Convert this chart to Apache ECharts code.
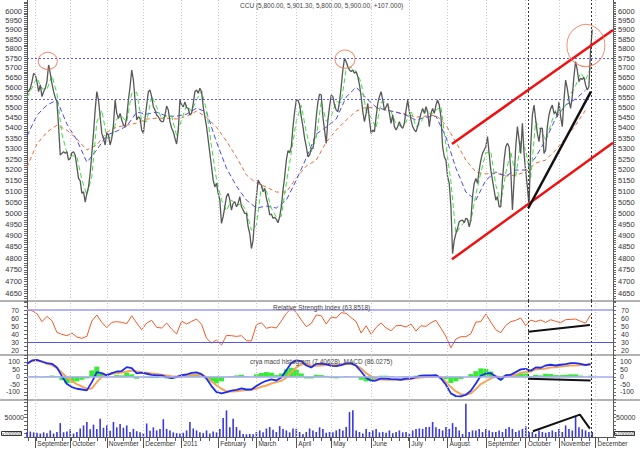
<!DOCTYPE html>
<html><head><meta charset="utf-8">
<script src="https://cdn.jsdelivr.net/npm/echarts@6/dist/echarts.min.js"></script>
<style>html,body{margin:0;padding:0;background:#fff}#c{width:640px;height:449px}</style>
</head><body><div id="c"></div>
<script>
// ---------- data ----------
const closeStep = 1;
const closePrice = [
5587,5579,5596,5630,5672,5664,5630,5579,5613,5554,5579,5596,5630,5715,5672,5621,5579,5550,5528,5406,5269,5277,5285,5277,5285,5245,5253,5280,5285,5269,5214,5159,5148,5090,5097,5050,5090,5120,5182,5277,5373,5487,5579,5537,5454,5373,5349,5317,5376,5365,5317,5349,5414,5537,5471,5446,5471,5438,5414,
5406,5454,5537,5604,5689,5638,5537,5438,5454,5446,5389,5373,5446,5512,5579,5587,5554,5504,5487,5463,5454,5438,5430,5430,5463,5507,5487,5430,5398,5381,5349,5322,5389,5537,5512,5504,5528,5500,5495,5463,5471,5520,5579,5587,5571,5596,5579,5504,5454,5406,5341,5277,5214,5151,5120,5136,5090,5059,4954,
4984,5029,5075,5090,5059,5014,5044,5052,5029,5044,5075,5029,5014,4999,4999,4939,4909,4843,4879,4984,5075,5151,5136,5128,5097,5113,5067,5037,4992,4996,4977,4981,4972,4957,4984,5029,5105,5167,5245,5290,5280,5309,5406,5479,5537,5537,5512,5454,5406,5349,5309,5261,5269,5301,5301,5357,5454,5528,5567,
5562,5454,5389,5325,5438,5504,5562,5554,5512,5487,5479,5528,5604,5689,5750,5732,5706,5689,5681,5689,5672,5681,5655,5613,5554,5479,5430,5471,5520,5438,5373,5389,5381,5454,5520,5554,5579,5537,5487,5504,5520,5471,5422,5463,5406,5389,5406,5430,5406,5398,5422,5487,5537,5479,5438,5406,5389,5381,5406,
5438,5471,5495,5471,5504,5479,5406,5471,5495,5471,5512,5537,5512,5454,5309,5261,5245,5167,5136,5029,4821,4879,4909,4932,4962,4966,4969,4957,4977,4972,4939,4969,5075,5136,5159,5136,5198,5245,5277,5293,5309,5357,5277,5198,5151,5105,5059,5075,5029,5029,5151,5245,5309,5325,5309,5198,5014,5151,5309,
5406,5341,5277,5422,5277,5190,5120,5035,5309,5463,5512,5438,5373,5333,5398,5398,5277,5293,5406,5463,5495,5512,5471,5479,5454,5528,5454,5406,5537,5638,5596,5537,5495,5554,5655,5732,5689,5630,5647,5641,5652,5613,5587,5604,5793,5900];

const maShortStep = 3;
const maShort = [5550,5598,5649,5594,5590,5660,5570,5370,5281,5266,5262,5153,5082,5167,5429,5486,5354,5352,5443,5457,
5428,5571,5576,5432,5430,5558,5502,5446,5458,5456,5363,5440,5511,5482,5539,5583,5486,5310,5155,5060,
5011,5060,5035,5044,5010,4923,4945,5123,5101,5023,4982,4986,5137,5281,5433,5510,5380,5285,5353,5528,
5433,5457,5529,5525,5694,5702,5681,5626,5484,5451,5399,5527,5527,5479,5420,5408,5428,5485,5404,5424,
5485,5465,5487,5504,5317,5144,4910,4942,4967,4964,5085,5185,5281,5285,5128,5048,5184,5285,5168,5333,
5292,5164,5431,5386,5342,5414,5489,5479,5509,5567,5609,5675,5638,5700];

const maMidStep = 6;
const maMid = [5360,5462,5512,5537,5418,5341,5235,5293,5365,5384,5408,5477,5467,5477,5457,5457,5467,5497,5477,5331,
5207,5123,5059,5023,5032,5023,5059,5151,5255,5370,5403,5443,5552,5602,5547,5502,5487,5477,5462,5438,
5452,5457,5355,5207,5096,5059,5151,5189,5170,5198,5198,5259,5341,5447,5512,5542,5587];

const maLongStep = 6;
const maLong = [5212,5322,5379,5413,5389,5346,5293,5317,5379,5403,5413,5423,5443,5447,5447,5443,5457,5482,5452,5403,
5336,5259,5175,5137,5119,5096,5096,5161,5217,5245,5331,5389,5438,5482,5502,5497,5487,5477,5467,5452,
5457,5462,5413,5331,5245,5189,5180,5184,5170,5175,5189,5231,5245,5293,5351,5413,5487];

const rsiStep = 3;
const rsi = [70.0,69.2,65.5,55.7,62.2,56.9,42.5,40.1,38.4,41.7,36.8,35.2,37.6,56.5,63.9,54.8,48.3,54.8,55.7,54.8,
53.2,63.0,54.0,45.8,54.0,57.3,48.7,47.9,54.0,46.6,40.5,56.5,52.8,56.1,58.9,52.4,35.2,29.4,33.1,27.0,
38.9,38.4,37.6,38.4,32.3,31.9,52.0,54.4,47.5,49.1,47.9,56.5,65.9,72.0,67.1,57.7,49.5,53.6,63.9,63.0,
52.8,61.4,60.2,66.7,65.9,60.6,55.7,41.7,50.7,40.1,48.7,54.0,47.9,44.6,50.7,51.1,49.1,52.8,44.2,50.7,
49.9,54.4,57.3,47.5,37.6,23.5,34.3,37.2,37.2,40.9,55.2,55.7,65.1,55.2,45.8,42.1,51.1,55.7,57.3,60.2,
50.7,57.7,55.7,57.7,54.8,58.1,56.1,54.4,58.1,58.5,58.9,56.1,54.0,63.9];

const macdStep = 3;
const macdLine = [86,109,113,100,91,86,62,4,-49,-69,-80,-85,-91,-36,31,24,9,24,35,38,
64,58,22,27,20,13,9,9,-2,-9,-2,11,15,26,29,18,-13,-62,-102,-111,
-102,-93,-87,-78,-85,-85,-62,-42,-27,-18,-25,-5,44,91,109,104,75,62,86,86,
84,73,71,78,89,89,73,35,-7,-27,-25,-11,-13,-16,-18,-20,-13,-13,-2,7,
9,9,11,-11,-53,-111,-129,-131,-120,-93,-45,7,22,24,2,-22,11,13,31,49,
53,40,62,60,75,80,75,80,84,91,91,86,78,86];
const macdSignal = [86,104,109,104,86,78,58,27,-5,-29,-49,-65,-80,-78,-36,0,13,20,24,29,
35,42,35,29,27,22,18,13,9,4,2,2,9,13,15,11,-2,-31,-58,-80,
-98,-98,-96,-91,-89,-87,-78,-67,-58,-45,-36,-27,-5,31,62,82,86,73,73,75,
78,80,82,82,84,86,75,55,24,2,-13,-18,-20,-20,-18,-18,-18,-13,-9,-5,
-2,0,4,-2,-36,-69,-98,-116,-120,-111,-82,-49,-31,-11,2,-2,0,7,13,27,
31,35,49,51,55,62,64,69,71,75,75,78,80,78];
const macdHist = [0,5,4,-4,5,8,4,-23,-44,-40,-31,-20,-11,42,67,24,-4,4,11,9,
29,16,-13,-2,-7,-9,-9,-4,-11,-13,-4,9,6,13,14,7,-11,-31,-44,-31,
-4,5,9,13,4,2,16,25,31,27,11,22,49,60,47,22,-11,-11,13,11,
6,-7,-11,-4,5,3,-2,-20,-31,-29,-12,7,7,4,0,-2,5,0,7,12,
11,9,7,-9,-17,-42,-31,-15,0,18,37,56,53,35,0,-20,11,6,18,22,
22,5,13,9,20,18,11,11,13,16,16,8,-2,7];

const volStep = 2;
const volume = [13000,14000,12000,11000,9000,12000,10000,17000,9000,13000,
36000,12000,14000,20000,9000,13000,22000,30000,39000,20000,
32000,21000,47000,24000,30000,16000,39000,25000,34000,24000,
30000,13000,21000,15000,12000,10000,35000,16000,25000,17000,
21000,46000,21000,17000,12000,10000,9000,11000,17000,39000,
22000,17000,12000,10000,17000,9000,14000,12000,21000,49000,
69000,25000,47000,26000,17000,8000,7000,8000,7000,13000,
17000,12000,22000,26000,19000,13000,28000,21000,17000,12000,
22000,21000,13000,8000,13000,22000,17000,13000,
25000,21000,11000,13000,12000,17000,21000,17000,26000,65000,
69000,17000,13000,9000,21000,13000,17000,21000,12000,13000,
11000,17000,10000,13000,17000,12000,13000,9000,17000,21000,
22000,21000,26000,26000,39000,25000,21000,17000,26000,21000,
36000,26000,17000,8000,86000,13000,17000,17000,21000,13000,
21000,17000,13000,13000,17000,13000,21000,26000,21000,13000,
17000,21000,28000,13000,13000,8000,17000,13000,11000,13000,
17000,13000,21000,13000,30000,21000,17000,54000,25000,20000,
17000,13000,13000];

const monthTicks = [5,26,48,70,93,115,138,162,183,207,230,253,276,300,320,342];
const monthLabels = ['September','October','November','December','2011','February','March','April','May','June','July','August','September','October','November','December'];
const priceTicks = [4650,4700,4750,4800,4850,4900,4950,5000,5050,5100,5150,5200,5250,5300,5350,5400,5450,5500,5550,5600,5650,5700,5750,5800,5850,5900,5950,6000];
const rsiTicks = [20,30,40,50,60,70];
const macdTicks = [-100,-50,0,50,100];
const volTicks = [50000];

// annotations drawn on the picture
const priceLevels = [5750, 5540];
const markerDays = [301.5, 339.2];
const upperChannel = [[255.6,5322],[352.5,5898]];
const lowerChannel = [[255.6,4796],[352.5,5328]];
const supportLine = [[301.5,5022],[339.2,5579]];
const circleCenters = [[12.5,5736],[191.3,5745],[336.2,5816]];
const rsiTrend = [[301.5,43.3],[338.6,51.5]];
const macdTrend = [[301.5,-13],[339,-25]];
const volTrend = [[304.3,14800],[332.6,58000],[338.6,21800]];

const titleText = 'CCU (5,800.00, 5,901.30, 5,800.00, 5,900.00, +107.000)';
const rsiText = 'Relative Strength Index (63.8518)';
const macdText = 'crya macd histogram (7.40628), MACD (86.0275)';
const volUnitText = 'x100000';

// ---------- chart ----------
const FONT = '"Liberation Sans", Arial, sans-serif';
const X_MAX = 352.5;
const pts = (arr, step) => arr.map((v, i) => [i * step, v]);
const range = (a, b, s) => { const r = []; for (let v = a; v <= b + 1e-9; v += s) r.push(+v.toFixed(3)); return r; };

const chart = echarts.init(document.getElementById('c'), null, {renderer: 'svg'});

const grids = [
  {left: 27, right: 27, top: 0, height: 301},
  {left: 27, right: 27, top: 301, height: 54},
  {left: 27, right: 27, top: 355, height: 45},
  {left: 27, right: 27, top: 400, height: 37}
];

function hiddenX(gi) {
  return {type: 'value', gridIndex: gi, min: 0, max: X_MAX,
    axisLine: {show: false}, axisTick: {show: false}, axisLabel: {show: false}, splitLine: {show: false}};
}
const xAxes = [hiddenX(0), hiddenX(1), hiddenX(2),
  {type: 'value', gridIndex: 3, min: 0, max: X_MAX,
   axisLine: {show: true, lineStyle: {color: '#555'}},
   axisTick: {show: true, customValues: monthTicks, length: 11, lineStyle: {color: '#555'}},
   axisLabel: {show: true, customValues: monthTicks, formatter: v => monthLabels[monthTicks.indexOf(v)] || '',
     align: 'left', margin: 3, fontSize: 6.5, color: '#333', fontFamily: FONT, padding: [0, 0, 0, 2],
     hideOverlap: false},
   splitLine: {show: false}},
  {type: 'value', gridIndex: 3, min: 0, max: X_MAX, position: 'bottom',
   axisLine: {show: false},
   axisTick: {show: true, customValues: range(0.5, 350, 5.2), length: 4, lineStyle: {color: '#555'}},
   axisLabel: {show: false}, splitLine: {show: false}}
];

function yAx(gi, pos, opts) {
  return Object.assign({
    gridIndex: gi, position: pos,
    axisLine: {show: true, onZero: false, lineStyle: {color: '#555'}},
    splitLine: {show: false}
  }, opts);
}
const priceY = pos => yAx(0, pos, {type: 'log', logBase: 10, min: 4619, max: 6060,
  axisTick: {show: true, customValues: range(4620, 6050, 10), length: 3, lineStyle: {color: '#666'}},
  axisLabel: {customValues: priceTicks, formatter: v => String(Math.round(v)), fontSize: 7.5, color: '#333', margin: 5, fontFamily: FONT}});
const rsiY = pos => yAx(1, pos, {type: 'value', min: 14.7, max: 81.1,
  axisTick: {show: true, customValues: range(15, 80, 5), length: 3, lineStyle: {color: '#666'}},
  axisLabel: {customValues: rsiTicks, fontSize: 7, color: '#333', margin: 8, fontFamily: FONT}});
const macdY = pos => yAx(2, pos, {type: 'value', min: -155, max: 145,
  axisTick: {show: true, customValues: range(-150, 140, 25), length: 3, lineStyle: {color: '#666'}},
  axisLabel: {customValues: macdTicks, fontSize: 7, color: '#333', margin: 7, fontFamily: FONT}});
const volY = pos => yAx(3, pos, {type: 'value', min: 0, max: 95850,
  axisTick: {show: true, customValues: range(0, 90000, 10000), length: 3, lineStyle: {color: '#666'}},
  axisLabel: {customValues: volTicks, formatter: v => String(Math.round(v)), fontSize: 7, color: '#333', margin: 3, fontFamily: FONT}});

const yAxes = [priceY('left'), priceY('right'), rsiY('left'), rsiY('right'), macdY('left'), macdY('right'), volY('left'), volY('right')];

const gridLineStyle = {color: '#c8c8c8', type: [1, 2], width: 1};
const markerStyle = {color: '#333', type: [2, 2], width: 1};
function helperLines(xi, yi, extra) {
  const data = monthTicks.map(v => ({xAxis: v, lineStyle: gridLineStyle}))
    .concat(markerDays.map(v => ({xAxis: v, lineStyle: markerStyle})))
    .concat(extra || []);
  return {type: 'line', xAxisIndex: xi, yAxisIndex: yi, data: [], z: 1, silent: true,
    markLine: {silent: true, symbol: ['none', 'none'], label: {show: false}, animation: false, data: data}};
}

const line = (xi, yi, data, color, width, dash, z) => ({type: 'line', xAxisIndex: xi, yAxisIndex: yi, data,
  showSymbol: false, symbol: 'none', silent: true, z: z || 3,
  lineStyle: {color, width, type: dash || 'solid'}});

const series = [
  helperLines(0, 0, priceLevels.map(v => ({yAxis: v, lineStyle: {color: '#5a5aee', type: [2, 2], width: 1}}))),
  helperLines(1, 2, [{yAxis: 70, lineStyle: {color: '#9b9bf0', type: 'solid', width: 1.5}}, {yAxis: 30, lineStyle: {color: '#5555e8', width: 1.2, type: 'solid'}}]),
  helperLines(2, 4, [{yAxis: 0, lineStyle: {color: '#a8a8f5', width: 1.5, type: 'solid'}}]),
  helperLines(3, 6, []),
  // price panel
  line(0, 0, pts(maLong, maLongStep), '#ee6a3a', 1, [4, 3], 3),
  line(0, 0, pts(maMid, maMidStep), '#4a4aee', 1, [5, 3], 3),
  line(0, 0, pts(maShort, maShortStep), '#3ee03e', 1, [5, 3], 3),
  line(0, 0, pts(closePrice, closeStep), '#585858', 1.3, 'solid', 4),
  line(0, 0, upperChannel, '#f01010', 2.5, 'solid', 5),
  line(0, 0, lowerChannel, '#f01010', 2.5, 'solid', 5),
  line(0, 0, supportLine, '#111', 2.5, 'solid', 5),
  {type: 'scatter', xAxisIndex: 0, yAxisIndex: 0, silent: true, z: 6,
   data: circleCenters.map((c, i) => ({value: c, symbolSize: [[19, 17], [20, 18], [38, 42]][i]})),
   symbol: 'circle', itemStyle: {color: 'rgba(0,0,0,0)', borderColor: '#e8764f', borderWidth: 1}},
  // RSI
  line(1, 2, pts(rsi, rsiStep), '#f05a28', 1, 'solid', 3),
  line(1, 2, rsiTrend, '#111', 2, 'solid', 5),
  // MACD
  {type: 'bar', xAxisIndex: 2, yAxisIndex: 4, data: pts(macdHist, macdStep), barWidth: 5, silent: true, z: 2,
   itemStyle: {color: '#36ea36'}},
  line(2, 4, pts(macdSignal, macdStep), '#f5a55a', 2, 'solid', 3),
  line(2, 4, pts(macdLine, macdStep), '#1f2cf0', 1.8, 'solid', 4),
  line(2, 4, macdTrend, '#111', 2, 'solid', 5),
  // Volume
  {type: 'bar', xAxisIndex: 3, yAxisIndex: 6, data: pts(volume, volStep), barWidth: 1.6, silent: true, z: 2,
   itemStyle: {color: '#3a3ad8'}},
  line(3, 6, volTrend, '#111', 2, 'solid', 5)
];

const txt = (text, left, top, size, extra) => Object.assign({text, left, top, padding: 0,
  textStyle: {fontSize: size, fontWeight: 'normal', color: '#444', fontFamily: FONT}}, extra || {});

chart.setOption({
  animation: false,
  backgroundColor: '#ffffff',
  textStyle: {fontFamily: FONT},
  title: [
    txt(titleText, 240, 2, 6.5),
    txt(rsiText, 273, 303.5, 6.5),
    txt(macdText, 250, 358, 6.5),
    txt(volUnitText, 1, 431, 5, {borderColor: '#333', borderWidth: 1, padding: [0, 1]}),
    txt(volUnitText, 614, 431, 5, {borderColor: '#333', borderWidth: 1, padding: [0, 1]})
  ],
  grid: grids,
  xAxis: xAxes,
  yAxis: yAxes,
  series: series,
  graphic: [
    {type: 'line', shape: {x1: 0, y1: 301, x2: 640, y2: 301}, style: {stroke: '#666', lineWidth: 1}, silent: true},
    {type: 'line', shape: {x1: 0, y1: 355, x2: 640, y2: 355}, style: {stroke: '#666', lineWidth: 1}, silent: true},
    {type: 'line', shape: {x1: 0, y1: 400, x2: 640, y2: 400}, style: {stroke: '#666', lineWidth: 1}, silent: true}
  ]
});
</script></body></html>
